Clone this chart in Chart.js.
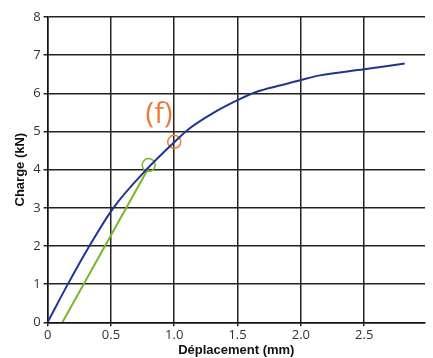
<!DOCTYPE html>
<html lang="fr">
<head>
  <meta charset="UTF-8">
  <title>Charge - Déplacement</title>
  <script src="https://cdn.jsdelivr.net/npm/chart.js"></script>
  <style>
    html, body { margin: 0; padding: 0; background: #fff; overflow: hidden; }
    #wrap { width: 433px; height: 358px; position: relative; }
    canvas { display: block; }
  </style>
</head>
<body>
  <div id="wrap"><canvas id="chart"></canvas></div>

  <script>
    // courbe charge / déplacement
    const courbeX = [0, 0.16, 0.33, 0.52, 0.78, 1.0, 1.12, 1.3, 1.5, 1.65, 1.85, 2.0, 2.15, 2.5, 2.82];
    const courbeY = [0, 1.0, 2.0, 3.0, 4.0, 4.72, 5.08, 5.47, 5.82, 6.04, 6.22, 6.35, 6.47, 6.63, 6.78];

    // droite de pente (décalée)
    const penteX = [0.117, 0.798];
    const penteY = [0, 4.05];

    // points repérés
    const pointVertX = [0.798];
    const pointVertY = [4.12];
    const pointOrangeX = [1.0];
    const pointOrangeY = [4.73];

    const etiquette = '(f)';
    const etiquettePos = [0.88, 5.43];

    const xTicks = [0, 0.5, 1, 1.5, 2, 2.5];
    const yTicks = [0, 1, 2, 3, 4, 5, 6, 7, 8];

    const bleu = '#1f3590';
    const vert = '#7ab62c';
    const orange = '#ef7a36';

    const toPts = (xs, ys) => xs.map((x, i) => ({ x: x, y: ys[i] }));

    const labelPlugin = {
      id: 'etiquette',
      afterDatasetsDraw(chart) {
        const ctx = chart.ctx;
        const x = chart.scales.x.getPixelForValue(etiquettePos[0]);
        const y = chart.scales.y.getPixelForValue(etiquettePos[1]);
        ctx.save();
        ctx.fillStyle = orange;
        ctx.font = '29px "Open Sans", "DejaVu Sans", sans-serif';
        ctx.textAlign = 'center';
        ctx.textBaseline = 'middle';
        ctx.fillText(etiquette, x, y);
        ctx.restore();
      }
    };

    new Chart(document.getElementById('chart'), {
      type: 'scatter',
      data: {
        datasets: [
          {
            data: toPts(courbeX, courbeY),
            showLine: true,
            borderColor: bleu,
            borderWidth: 2,
            pointRadius: 0,
            cubicInterpolationMode: 'monotone'
          },
          {
            data: toPts(penteX, penteY),
            showLine: true,
            borderColor: vert,
            borderWidth: 2,
            pointRadius: 0
          },
          {
            data: toPts(pointVertX, pointVertY),
            pointStyle: 'circle',
            pointRadius: 6.5,
            borderColor: vert,
            borderWidth: 1.5,
            backgroundColor: 'rgba(0,0,0,0)'
          },
          {
            data: toPts(pointOrangeX, pointOrangeY),
            pointStyle: 'circle',
            pointRadius: 6.5,
            borderColor: orange,
            borderWidth: 1.5,
            backgroundColor: 'rgba(0,0,0,0)'
          }
        ]
      },
      options: {
        responsive: true,
        maintainAspectRatio: false,
        animation: false,
        layout: { padding: { top: 17, right: 0, left: 0, bottom: 0 } },
        plugins: {
          legend: { display: false },
          tooltip: { enabled: false }
        },
        scales: {
          x: {
            type: 'linear',
            min: 0,
            max: 2.98,
            afterBuildTicks: s => { s.ticks = xTicks.map(v => ({ value: v })); },
            afterFit: s => { s.height = 35.7; s.paddingLeft = 0; s.paddingRight = 0; },
            border: { color: '#111', width: 1.5 },
            grid: { color: '#222', lineWidth: 1.5, tickLength: 4 },
            ticks: {
              color: '#333',
              padding: 1,
              font: { family: '"Open Sans", "DejaVu Sans", sans-serif', size: 13 }
            },
            title: {
              display: true,
              text: 'Déplacement (mm)',
              color: '#111',
              padding: { top: 0, bottom: 0 },
              font: { family: '"Liberation Sans", Arial, sans-serif', size: 13, weight: 'bold' }
            }
          },
          y: {
            type: 'linear',
            min: 0,
            max: 8,
            afterBuildTicks: s => { s.ticks = yTicks.map(v => ({ value: v })); },
            afterFit: s => { s.width = 47.6; s.paddingTop = 0; s.paddingBottom = 0; },
            border: { color: '#111', width: 1.5 },
            grid: { color: '#222', lineWidth: 1.5, tickLength: 4 },
            ticks: {
              color: '#333',
              padding: 3,
              font: { family: '"Open Sans", "DejaVu Sans", sans-serif', size: 13 }
            },
            title: {
              display: true,
              text: 'Charge (kN)',
              color: '#111',
              padding: { top: 13, bottom: 0 },
              font: { family: '"Liberation Sans", Arial, sans-serif', size: 13, weight: 'bold' }
            }
          }
        }
      },
      plugins: [labelPlugin]
    });
  </script>
</body>
</html>
